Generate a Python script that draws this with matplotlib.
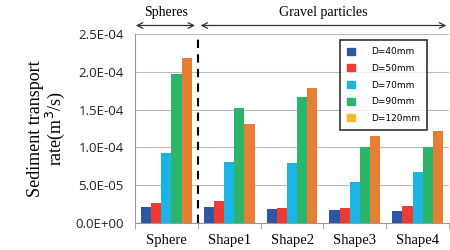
import numpy as np
import matplotlib.pyplot as plt
from matplotlib.patches import Patch
from matplotlib.ticker import FixedLocator

categories = ['Sphere', 'Shape1', 'Shape2', 'Shape3', 'Shape4']
series_names = ['D=40mm', 'D=50mm', 'D=70mm', 'D=90mm', 'D=120mm']
d40 = [2.15e-5, 2.1e-5, 1.8e-5, 1.75e-5, 1.65e-5]
d50 = [2.7e-5, 2.9e-5, 2.0e-5, 2.0e-5, 2.2e-5]
d70 = [9.3e-5, 8.1e-5, 7.9e-5, 5.4e-5, 6.7e-5]
d90 = [19.7e-5, 15.2e-5, 16.7e-5, 10.0e-5, 10.0e-5]
d120 = [21.8e-5, 13.1e-5, 17.9e-5, 11.5e-5, 12.2e-5]
yticks = [0, 5e-5, 1e-4, 1.5e-4, 2e-4, 2.5e-4]
ytick_labels = ['0.0E+00', '5.0E-05', '1.0E-04', '1.5E-04', '2.0E-04', '2.5E-04']

bar_colors = ['#2E56A5', '#EE3B33', '#1AB4E5', '#2BB56A', '#E77E35']
legend_colors = ['#2E56A5', '#EE3B33', '#1AB4E5', '#2BB56A', '#FBB731']

fig = plt.figure(figsize=(4.5, 2.5), dpi=100)
ax = fig.add_axes([0.3, 0.108, 0.698, 0.756])

x = np.arange(len(categories))
w = 0.162
for i, vals in enumerate([d40, d50, d70, d90, d120]):
    ax.bar(x + (i - 2) * w, vals, width=w, color=bar_colors[i], zorder=3)

ax.set_xlim(-0.5, len(categories) - 0.5)
ax.set_ylim(0, 2.5e-4)
ax.set_yticks(yticks)
ax.set_yticklabels(ytick_labels, fontsize=9.5, color='#222222', family='Open Sans')
ax.tick_params(axis='y', length=0, pad=8)
ax.set_xticks(x)
ax.set_xticklabels(categories, fontsize=10.5, family='Liberation Serif')
ax.tick_params(axis='x', which='major', length=0, pad=8)
ax.xaxis.set_minor_locator(FixedLocator(np.arange(len(categories) + 1) - 0.5))
ax.tick_params(axis='x', which='minor', length=4, color='#999999')
ax.grid(axis='y', color='#BBBBBB', linewidth=0.8, zorder=0)
for s in ['top', 'right']:
    ax.spines[s].set_visible(False)
ax.spines['left'].set_color('#999999')
ax.spines['bottom'].set_color('#999999')

ax.set_ylabel('Sediment transport\nrate(m$^3$/s)', fontsize=13,
              family='Liberation Serif', linespacing=1.0, labelpad=6)

# dashed divider between spheres and gravel
ax.axvline(0.5, color='black', linestyle=(0, (4, 3)), linewidth=1.5, zorder=4)

# group arrows above the plot
arr = dict(arrowstyle='<->', color='#333333', linewidth=0.9, mutation_scale=10)
ya = 1.045
ax.annotate('', xy=(-0.53, ya), xytext=(0.5, ya), xycoords=('data', 'axes fraction'),
            arrowprops=arr, annotation_clip=False)
ax.annotate('', xy=(0.5, ya), xytext=(4.5, ya), xycoords=('data', 'axes fraction'),
            arrowprops=arr, annotation_clip=False)
ax.text(0.0, 1.08, 'Spheres', transform=ax.get_xaxis_transform(), ha='center',
        va='bottom', fontsize=10, family='Liberation Serif')
ax.text(2.5, 1.08, 'Gravel particles', transform=ax.get_xaxis_transform(), ha='center',
        va='bottom', fontsize=10, family='Liberation Serif')

handles = [Patch(color=c) for c in legend_colors]
leg = ax.legend(handles, series_names, loc='upper right', bbox_to_anchor=(0.93, 0.968),
                fontsize=6.5, frameon=True, fancybox=False, handlelength=0.8,
                handleheight=0.8, handletextpad=1.8, borderpad=0.8, labelspacing=0.85,
                borderaxespad=0)
leg.get_frame().set_edgecolor('black')
leg.get_frame().set_linewidth(1.2)

fig.savefig('out.png', dpi=100)
